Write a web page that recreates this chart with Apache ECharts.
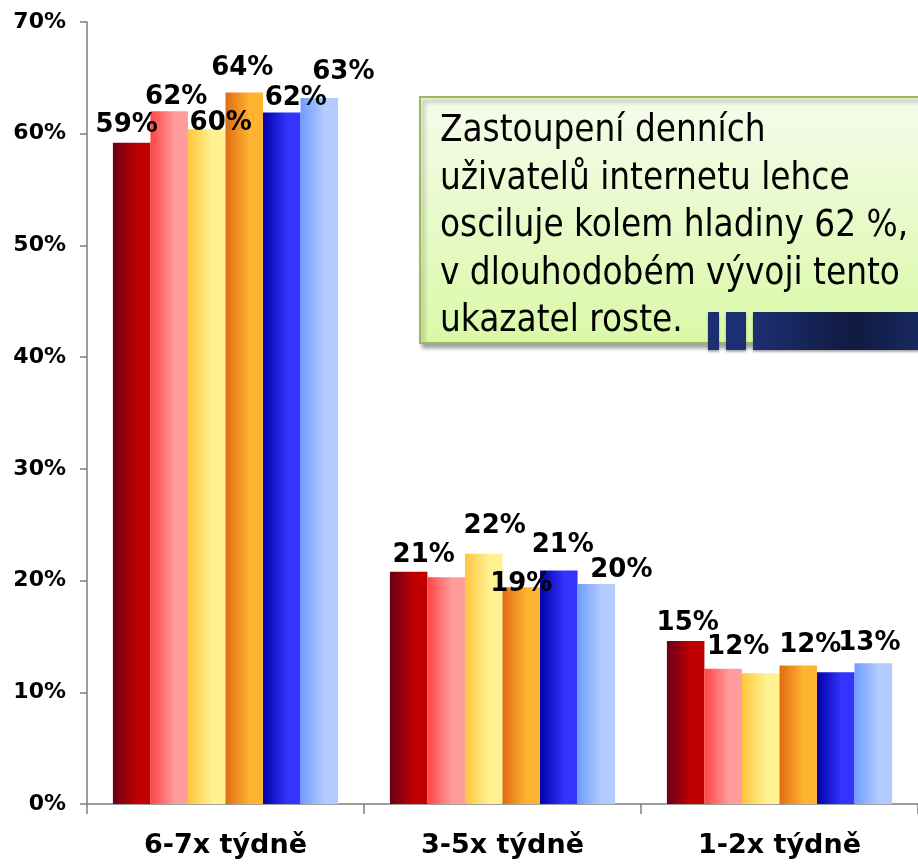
<!DOCTYPE html>
<html>
<head>
    <meta http-equiv="Content-Type" content="text/html; charset=UTF-8">
    <script src="https://cdn.jsdelivr.net/npm/echarts@6/dist/echarts.min.js"></script>
    <style>
        html, body { margin: 0; padding: 0; background: #fff; }
        #container { width: 918px; height: 866px; }
    </style>
</head>
<body>
<div id="container"></div>
<script>
/**=======数据=====**/
var categories = ['6-7x týdně', '3-5x týdně', '1-2x týdně'];
var yTicks = [0, 10, 20, 30, 40, 50, 60, 70];
var seriesNames = ['Série 1', 'Série 2', 'Série 3', 'Série 4', 'Série 5', 'Série 6'];
var s1 = [59.2, 20.8, 14.6];
var s2 = [62.0, 20.3, 12.1];
var s3 = [60.4, 22.4, 11.7];
var s4 = [63.7, 19.4, 12.4];
var s5 = [61.9, 20.9, 11.8];
var s6 = [63.2, 19.7, 12.6];
var seriesValues = [s1, s2, s3, s4, s5, s6];

// 标签是否显示 (原图中部分标签被遮挡)
var labelShown = [
    [true, true, true],
    [true, false, true],
    [true, true, false],
    [true, true, true],
    [true, true, false],
    [true, true, true]
];
// 标签偏移 [dx, dy]
var labelShift = [
    [[-5, 1], [15, 2], [2, 0]],
    [[7, 4], [0, 0], [15, -4]],
    [[14, 12], [11, -10], [0, 0]],
    [[-2, -6], [0, 15], [12, -2]],
    [[14, 4], [4, -7], [0, 0]],
    [[24, -8], [25, 4], [-4, -2]]
];
// 渐变色 [左, 右]
var barColors = [
    ['#6a0019', '#c00000'],
    ['#ff4444', '#ff9c9c'],
    ['#ffc53c', '#fff290'],
    ['#e06c10', '#ffb431'],
    ['#0000a6', '#3434ff'],
    ['#6e9dff', '#b3cbff']
];

var myChart = echarts.init(document.getElementById('container'));

var series = [];
for (var i = 0; i < seriesValues.length; i++) {
    var items = [];
    for (var j = 0; j < categories.length; j++) {
        items.push({
            value: seriesValues[i][j],
            label: {
                show: labelShown[i][j],
                offset: labelShift[i][j]
            }
        });
    }
    series.push({
        name: seriesNames[i],
        type: 'bar',
        barGap: '0%',
        barCategoryGap: '18.7%',
        itemStyle: {
            color: new echarts.graphic.LinearGradient(0, 0, 1, 0, [
                {offset: 0, color: barColors[i][0]},
                {offset: 0.65, color: barColors[i][1]},
                {offset: 1, color: barColors[i][1]}
            ])
        },
        label: {
            position: 'top',
            distance: 5,
            color: '#000',
            fontFamily: 'DejaVu Sans',
            fontWeight: 'bold',
            fontSize: 26,
            formatter: function (p) { return Math.round(p.value) + '%'; }
        },
        data: items
    });
}

var option = {
    backgroundColor: '#fff',
    animation: false,
    grid: { left: 87, right: -7, top: 22, bottom: 62, containLabel: false },
    xAxis: {
        type: 'category',
        data: categories,
        axisLine: { lineStyle: { color: '#7f7f7f', width: 1.5 } },
        axisTick: { show: true, length: 10, lineStyle: { color: '#7f7f7f', width: 1.5 } },
        axisLabel: {
            color: '#000', fontFamily: 'DejaVu Sans', fontWeight: 'bold',
            fontSize: 27, margin: 28
        }
    },
    yAxis: {
        type: 'value',
        min: yTicks[0],
        max: yTicks[yTicks.length - 1],
        interval: 10,
        splitLine: { show: false },
        axisLine: { show: true, lineStyle: { color: '#7f7f7f', width: 1.5 } },
        axisTick: { show: true, length: 7, lineStyle: { color: '#7f7f7f', width: 1.5 } },
        axisLabel: {
            color: '#000', fontFamily: 'DejaVu Sans', fontWeight: 'bold',
            fontSize: 22, margin: 21, formatter: '{value}%'
        }
    },
    graphic: [
        {
            type: 'rect',
            shape: { x: 420, y: 97, width: 520, height: 246 },
            style: {
                fill: new echarts.graphic.LinearGradient(0, 0, 0, 1, [
                    {offset: 0, color: '#f6fbec'},
                    {offset: 1, color: '#d9f9a6'}
                ]),
                stroke: '#9bbb59',
                lineWidth: 2,
                shadowBlur: 4,
                shadowOffsetX: 3,
                shadowOffsetY: 4,
                shadowColor: 'rgba(0,0,0,0.35)'
            },
            z: 10
        },
        {
            type: 'text',
            x: 440,
            y: 108,
            style: {
                text: 'Zastoupení denních\nuživatelů internetu lehce\nosciluje kolem hladiny 62 %,\nv dlouhodobém vývoji tento\nukazatel roste.',
                fill: '#000',
                font: '36.5px "DejaVu Sans Condensed"',
                lineHeight: 47.5,
                verticalAlign: 'top'
            },
            z: 11
        },
        {
            type: 'rect',
            shape: { x: 708, y: 312, width: 11, height: 38 },
            style: { fill: '#1c2f72', shadowBlur: 2, shadowOffsetY: 2, shadowColor: 'rgba(0,0,0,0.3)' },
            z: 12
        },
        {
            type: 'rect',
            shape: { x: 726, y: 312, width: 20, height: 38 },
            style: { fill: '#1c2f72', shadowBlur: 2, shadowOffsetY: 2, shadowColor: 'rgba(0,0,0,0.3)' },
            z: 12
        },
        {
            type: 'rect',
            shape: { x: 753, y: 312, width: 180, height: 38 },
            style: {
                fill: new echarts.graphic.LinearGradient(0, 0, 1, 0, [
                    {offset: 0, color: '#1c2f72'},
                    {offset: 0.55, color: '#101b40'},
                    {offset: 1, color: '#1a2b66'}
                ]),
                shadowBlur: 2, shadowOffsetY: 2, shadowColor: 'rgba(0,0,0,0.3)'
            },
            z: 12
        }
    ],
    series: series
};
myChart.setOption(option);
</script>
</body>
</html>
